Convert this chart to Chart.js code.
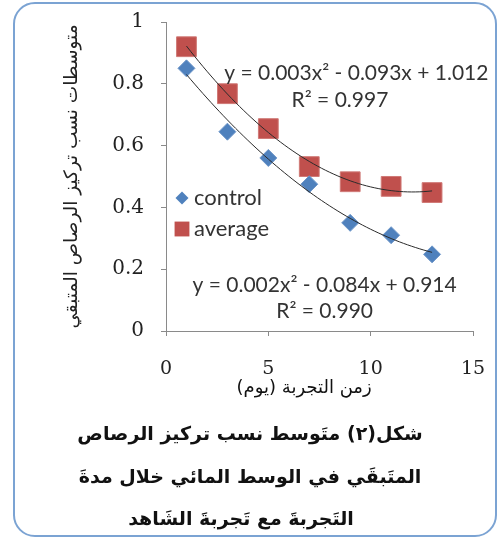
<!DOCTYPE html>
<html>
<head>
<meta charset="utf-8">
<script src="https://cdn.jsdelivr.net/npm/chart.js@4/dist/chart.umd.min.js"></script>
<style>
  html, body { margin: 0; padding: 0; background: #fff; }
  #wrap { position: relative; width: 499px; height: 540px; overflow: hidden; }
  #frame {
    position: absolute; left: 13px; top: 2px; width: 484px; height: 535px;
    box-sizing: border-box; border: 2.5px solid #7ba3d3; border-radius: 22px;
  }
  canvas { position: absolute; left: 0; top: 0; }
  #caption {
    position: absolute; left: 40px; width: 420px; top: 412px;
    text-align: center; direction: rtl; color: #111;
    font: bold 19px "DejaVu Sans", sans-serif; line-height: 42.5px;
  }
</style>
</head>
<body>
<div id="wrap">
  <div id="frame"></div>
  <canvas id="chart" width="499" height="540"></canvas>
  <div id="caption">
    <div>شكل(٢) متَوسط نسب تركيز الرصاص</div>
    <div>المتَبقَي في الوسط المائي خلال مدةَ</div>
    <div style="margin-right:18px">التَجربةَ مع تَجربةَ الشَاهد</div>
  </div>
</div>
<script>
// Days of the experiment and the mean remaining lead fraction for each series
const days = [1, 3, 5, 7, 9, 11, 13];
const controlValues = [0.85, 0.645, 0.56, 0.475, 0.35, 0.31, 0.248];
const averageValues = [0.92, 0.768, 0.655, 0.532, 0.483, 0.468, 0.448];
const seriesNames = ['control', 'average'];
const xTicks = [0, 5, 10, 15];
const yTicks = [0, 0.2, 0.4, 0.6, 0.8, 1];
const averageEquation = ['y = 0.003x² - 0.093x + 1.012', 'R² = 0.997'];
const controlEquation = ['y = 0.002x² - 0.084x + 0.914', 'R² = 0.990'];
const xTitle = 'زمن التجربة (يوم)';
const yTitle = 'متوسطات نسب تركيز الرصاص المتبقي';

// Least-squares quadratic (polynomial order 2) trendline
function quadFit(xs, ys) {
  let s = [0, 0, 0, 0, 0], t = [0, 0, 0];
  xs.forEach((x, i) => {
    for (let k = 0; k < 5; k++) s[k] += Math.pow(x, k);
    for (let k = 0; k < 3; k++) t[k] += ys[i] * Math.pow(x, k);
  });
  const m = [[s[0], s[1], s[2], t[0]], [s[1], s[2], s[3], t[1]], [s[2], s[3], s[4], t[2]]];
  for (let c = 0; c < 3; c++) {
    for (let r = c + 1; r < 3; r++) {
      const f = m[r][c] / m[c][c];
      for (let k = c; k < 4; k++) m[r][k] -= f * m[c][k];
    }
  }
  const b = [0, 0, 0];
  for (let r = 2; r >= 0; r--) {
    let v = m[r][3];
    for (let k = r + 1; k < 3; k++) v -= m[r][k] * b[k];
    b[r] = v / m[r][r];
  }
  return b; // [c0, c1, c2]
}
function trendPoints(xs, ys) {
  const [c0, c1, c2] = quadFit(xs, ys);
  const pts = [];
  const lo = Math.min(...xs), hi = Math.max(...xs);
  for (let x = lo; x <= hi + 1e-9; x += 0.2) pts.push({ x, y: c0 + c1 * x + c2 * x * x });
  return pts;
}

const BLUE = '#4f81bd', RED = '#c0504d', TEXT = '#333333', AXIS = '#8a8a8a';
const LATIN = 'Lato, "Liberation Sans", sans-serif';

// Legend drawn inside the plot area
const innerLegend = {
  id: 'innerLegend',
  afterDatasetsDraw(chart) {
    const { ctx, chartArea } = chart;
    const items = chart.data.datasets.filter(d => d.inLegend);
    ctx.save();
    ctx.font = '22px ' + LATIN;
    ctx.textBaseline = 'middle';
    items.forEach((d, i) => {
      const y = chartArea.top + 176 + i * 31;
      const x = chartArea.left + 16;
      ctx.fillStyle = d.backgroundColor;
      ctx.beginPath();
      Chart.helpers.drawPoint(ctx, { pointStyle: d.pointStyle, radius: d.legendRadius, borderWidth: 0 }, x, y);
      ctx.fillStyle = TEXT;
      ctx.fillText(d.label, x + 12, y);
    });
    ctx.restore();
  }
};

// Trendline equation labels and the x-axis title, placed in data coordinates
const chartTexts = {
  id: 'chartTexts',
  afterDatasetsDraw(chart) {
    const { ctx, scales: { x, y } } = chart;
    ctx.save();
    ctx.font = '21px ' + LATIN;
    ctx.fillStyle = TEXT;
    ctx.textBaseline = 'middle';
    ctx.textAlign = 'center';
    ctx.fillText(averageEquation[0], x.getPixelForValue(9.3), y.getPixelForValue(0.833));
    ctx.fillText(averageEquation[1], x.getPixelForValue(8.5), y.getPixelForValue(0.748));
    ctx.fillText(controlEquation[0], x.getPixelForValue(7.75), y.getPixelForValue(0.147));
    ctx.fillText(controlEquation[1], x.getPixelForValue(7.75), y.getPixelForValue(0.065));
    ctx.font = '18px "DejaVu Sans", sans-serif';
    ctx.fillStyle = '#111';
    ctx.direction = 'rtl';
    ctx.fillText(xTitle, x.getPixelForValue(6.75), x.bottom - 13);
    ctx.restore();
  }
};

const toPoints = (xs, ys) => xs.map((x, i) => ({ x, y: ys[i] }));

new Chart(document.getElementById('chart'), {
  type: 'scatter',
  data: {
    datasets: [
      {
        label: 'control trend', data: trendPoints(days, controlValues), type: 'line',
        borderColor: '#2b2b2b', borderWidth: 1, pointRadius: 0, fill: false, order: 0
      },
      {
        label: 'average trend', data: trendPoints(days, averageValues), type: 'line',
        borderColor: '#2b2b2b', borderWidth: 1, pointRadius: 0, fill: false, order: 0
      },
      {
        label: seriesNames[0], data: toPoints(days, controlValues), inLegend: true,
        pointStyle: 'rectRot', pointRadius: 8.5, legendRadius: 6.5,
        backgroundColor: BLUE, borderColor: '#6f97c9', borderWidth: 1, order: 1
      },
      {
        label: seriesNames[1], data: toPoints(days, averageValues), inLegend: true,
        pointStyle: 'rect', pointRadius: 14, legendRadius: 10.5,
        backgroundColor: RED, borderColor: '#d07a77', borderWidth: 1, order: 1
      }
    ]
  },
  options: {
    responsive: false,
    animation: false,
    layout: { autoPadding: false, padding: { left: 50, right: 26, top: 22, bottom: 139 } },
    plugins: { legend: { display: false }, tooltip: { enabled: false } },
    scales: {
      x: {
        type: 'linear', min: 0, max: 15,
        afterBuildTicks: s => { s.ticks = xTicks.map(v => ({ value: v })); },
        afterFit: s => { s.height = 70; s.paddingLeft = 0; s.paddingRight = 0; },
        grid: { display: true, drawOnChartArea: false, drawTicks: true, tickLength: 5, color: AXIS },
        border: { display: true, color: AXIS, width: 1 },
        ticks: {
          padding: 22, color: '#222', maxRotation: 0,
          font: { family: '"DejaVu Serif", serif', size: 19 },
          callback: v => String(v)
        }
      },
      y: {
        type: 'linear', min: 0, max: 1,
        afterBuildTicks: s => { s.ticks = yTicks.map(v => ({ value: v })); },
        afterFit: s => { s.width = 116; s.paddingTop = 0; s.paddingBottom = 0; },
        grid: { display: true, drawOnChartArea: false, drawTicks: true, tickLength: 5, color: AXIS },
        border: { display: true, color: AXIS, width: 1 },
        ticks: {
          padding: 17, color: '#222',
          font: { family: '"DejaVu Serif", serif', size: 20 },
          callback: v => String(v)
        },
        title: {
          display: true, text: yTitle, color: '#222',
          font: { family: '"DejaVu Sans", sans-serif', size: 18.5 },
          padding: { top: 11, bottom: 0 }
        }
      }
    }
  },
  plugins: [innerLegend, chartTexts]
});
</script>
</body>
</html>
